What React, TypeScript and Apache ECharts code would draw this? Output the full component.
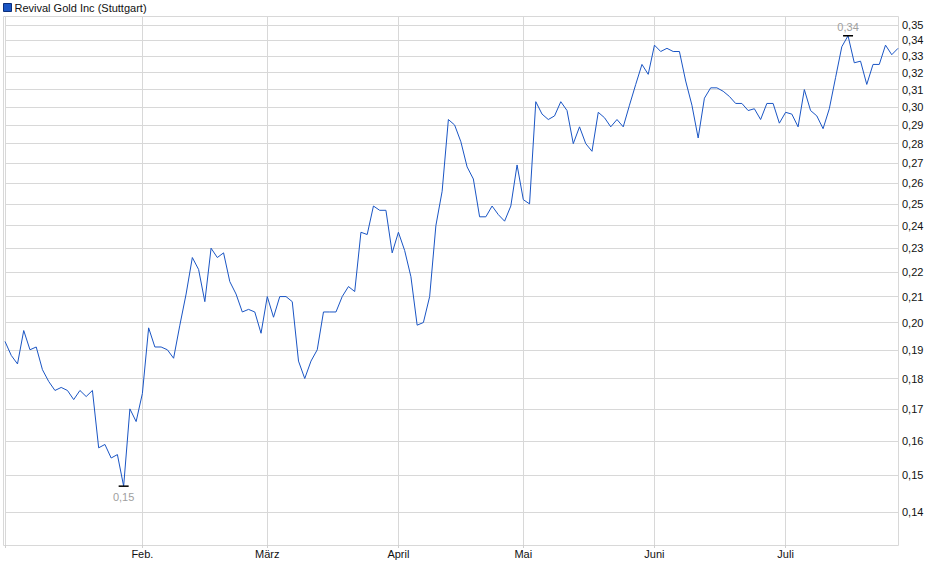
import React, { useEffect, useRef } from 'react';
import * as echarts from 'echarts';

// Schlusskurse (EUR) je Handelstag, nach Monaten
const janPrices = [0.193, 0.188, 0.185, 0.197, 0.190, 0.191, 0.183, 0.179, 0.176, 0.177, 0.176, 0.173, 0.176, 0.174, 0.176, 0.158, 0.159, 0.155, 0.156, 0.147, 0.170, 0.166];
const febPrices = [0.175, 0.198, 0.191, 0.191, 0.190, 0.187, 0.199, 0.211, 0.226, 0.221, 0.208, 0.230, 0.226, 0.228, 0.216, 0.211, 0.204, 0.205, 0.204, 0.196];
const marPrices = [0.210, 0.202, 0.210, 0.210, 0.208, 0.186, 0.180, 0.186, 0.190, 0.204, 0.204, 0.204, 0.210, 0.214, 0.212, 0.237, 0.236, 0.249, 0.247, 0.247, 0.228];
const aprPrices = [0.237, 0.229, 0.218, 0.199, 0.200, 0.210, 0.240, 0.256, 0.293, 0.290, 0.281, 0.268, 0.262, 0.244, 0.244, 0.249, 0.245, 0.242, 0.249, 0.269];
const mayPrices = [0.252, 0.250, 0.303, 0.296, 0.293, 0.295, 0.303, 0.298, 0.280, 0.289, 0.280, 0.276, 0.297, 0.294, 0.289, 0.293, 0.289, 0.301, 0.313, 0.325, 0.319];
const junPrices = [0.337, 0.333, 0.335, 0.333, 0.333, 0.315, 0.301, 0.283, 0.305, 0.311, 0.311, 0.309, 0.306, 0.302, 0.302, 0.298, 0.299, 0.293, 0.302, 0.302, 0.291];
const julPrices = [0.297, 0.296, 0.289, 0.310, 0.298, 0.295, 0.288, 0.299, 0.317, 0.336, 0.343, 0.326, 0.327, 0.313, 0.325, 0.325, 0.337, 0.331, 0.335];

const monthNames = ['Jan.', 'Feb.', 'März', 'April', 'Mai', 'Juni', 'Juli'];
const holidays = ['2025-04-18', '2025-04-21', '2025-05-01'];
const firstDay = '2025-01-02';
const lastDay = '2025-07-25';

const yTicks = [0.14, 0.15, 0.16, 0.17, 0.18, 0.19, 0.2, 0.21, 0.22, 0.23, 0.24, 0.25, 0.26, 0.27, 0.28, 0.29, 0.3, 0.31, 0.32, 0.33, 0.34, 0.35];
const yMin = 0.1316;
const yMax = 0.356;

const prices = [...janPrices, ...febPrices, ...marPrices, ...aprPrices, ...mayPrices, ...junPrices, ...julPrices];

// Handelstage (Mo-Fr ohne Börsenfeiertage)
const dates: string[] = [];
for (let d = new Date(firstDay + 'T12:00:00Z'); d <= new Date(lastDay + 'T12:00:00Z'); d.setUTCDate(d.getUTCDate() + 1)) {
  const day = d.getUTCDay();
  const iso = d.toISOString().slice(0, 10);
  if (day !== 0 && day !== 6 && !holidays.includes(iso)) dates.push(iso);
}

const monthStarts = new Set<number>();
dates.forEach((d, i) => {
  if (i === 0 || d.slice(5, 7) !== dates[i - 1].slice(5, 7)) monthStarts.add(i);
});

const fmt = (v: number) => Math.pow(10, v).toFixed(2).replace('.', ',');

const FONT = '"Liberation Sans", Arial, sans-serif';

const App: React.FC = () => {
  const chartRef = useRef<HTMLDivElement>(null);

  useEffect(() => {
    document.body.style.margin = '0';
    if (!chartRef.current) return;
    const chart = echarts.init(chartRef.current, undefined, { renderer: 'svg' });

    const logTicks = yTicks.map((v) => Math.log10(v));

    chart.setOption({
      animation: false,
      backgroundColor: '#fff',
      textStyle: { fontFamily: FONT },
      legend: {
        left: 1,
        top: 1,
        icon: 'rect',
        itemWidth: 8,
        itemHeight: 8,
        itemGap: 5,
        padding: [1, 2],
        textStyle: { fontSize: 11, color: '#111', fontFamily: FONT, padding: [0, 0, 0, -2] },
        itemStyle: { borderColor: '#0d2f7a', borderWidth: 1 },
        data: ['Revival Gold Inc (Stuttgart)'],
      },
      grid: { left: 5, right: 42, top: 16, bottom: 34 },
      graphic: [
        {
          type: 'rect',
          silent: true,
          z: 0,
          shape: { x: 3.5, y: 16.5, width: 895, height: 529 },
          style: { fill: 'none', stroke: '#d8d8d8', lineWidth: 1 },
        },
      ],
      xAxis: {
        type: 'category',
        data: dates,
        boundaryGap: false,
        axisLine: { show: false },
        axisTick: {
          show: true,
          length: 3,
          interval: (i: number) => monthStarts.has(i),
          lineStyle: { color: '#cfcfcf' },
        },
        axisLabel: {
          interval: (i: number) => i > 0 && monthStarts.has(i),
          formatter: (v: string) => monthNames[Number(v.slice(5, 7)) - 1],
          fontSize: 11,
          color: '#111',
          fontFamily: FONT,
          margin: 3,
        },
        splitLine: {
          show: true,
          interval: (i: number) => monthStarts.has(i),
          lineStyle: { color: '#d8d8d8', width: 1 },
        },
      },
      yAxis: {
        type: 'value',
        position: 'right',
        min: Math.log10(yMin),
        max: Math.log10(yMax),
        axisLine: { show: false },
        axisTick: { show: false, customValues: logTicks },
        axisLabel: {
          customValues: logTicks,
          formatter: (v: number) => fmt(v),
          fontSize: 11,
          color: '#111',
          fontFamily: FONT,
          margin: 4,
        },
        splitLine: { show: true, lineStyle: { color: '#d8d8d8', width: 1 } },
      },
      series: [
        {
          name: 'Revival Gold Inc (Stuttgart)',
          type: 'line',
          data: prices.map((p) => Math.log10(p)),
          symbol: 'none',
          lineStyle: { color: '#1a55c4', width: 1 },
          itemStyle: { color: '#1a55c4' },
          markPoint: {
            symbol: 'rect',
            symbolSize: [10, 1.5],
            itemStyle: { color: '#000' },
            label: {
              color: '#a0a0a0',
              fontSize: 11,
              fontFamily: FONT,
              formatter: (p: any) => fmt(p.value),
            },
            data: [
              { type: 'min', label: { position: 'bottom', distance: 5 } },
              { type: 'max', label: { position: 'top', distance: 3 } },
            ],
          },
        },
      ],
    });

    return () => {
      chart.dispose();
    };
  }, []);

  return <div ref={chartRef} style={{ width: '940px', height: '579px' }} />;
};

export default App;
